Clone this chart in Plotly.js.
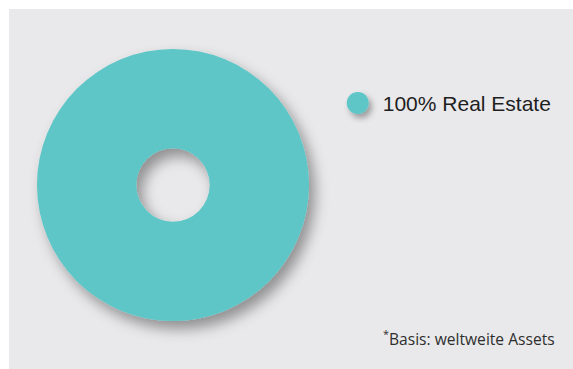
<!DOCTYPE html>
<html>
<head>
<meta charset="utf-8">
<script src="https://cdn.plot.ly/plotly-3.0.1.min.js"></script>
<style>
  html, body { margin: 0; padding: 0; background: #ffffff; }
  #chart { position: absolute; left: 9px; top: 9px; width: 564px; height: 360px; }
</style>
</head>
<body>
<div id="chart"></div>
<script>
// ---- data ----
const categories = ["Real Estate"];
const shares = [100];
const footnote = "Basis: weltweite Assets";

const teal = "#5ec6c7";
const legendLabels = categories.map((c, i) => shares[i] + "% " + c);

const trace = {
  type: "pie",
  labels: legendLabels,
  values: shares,
  hole: 0.27,
  sort: false,
  direction: "clockwise",
  textinfo: "none",
  hoverinfo: "none",
  marker: { colors: [teal], line: { width: 0 } },
  domain: { x: [0.0496, 0.5319], y: [0.1333, 0.8889] },
  showlegend: true
};

const layout = {
  width: 564,
  height: 360,
  margin: { l: 0, r: 0, t: 0, b: 0 },
  paper_bgcolor: "#e9e9eb",
  plot_bgcolor: "#e9e9eb",
  showlegend: true,
  legend: {
    x: 0.574, y: 0.738, xanchor: "left", yanchor: "middle",
    bgcolor: "rgba(0,0,0,0)",
    font: { family: "Liberation Sans, Arial, sans-serif", size: 21, color: "#1e1e1e" },
    itemwidth: 40
  },
  annotations: [{
    xref: "paper", yref: "paper",
    x: 0.972, y: 0.085, xanchor: "right", yanchor: "middle",
    text: "<sup>*</sup>" + footnote,
    showarrow: false,
    font: { family: "Open Sans, sans-serif", size: 15.6, color: "#2e2e2e" }
  }]
};

Plotly.newPlot("chart", [trace], layout, { staticPlot: true, displayModeBar: false }).then(function (gd) {
  const svg = gd.querySelector(".main-svg");
  const ns = "http://www.w3.org/2000/svg";
  let defs = svg.querySelector("defs");
  if (!defs) { defs = document.createElementNS(ns, "defs"); svg.insertBefore(defs, svg.firstChild); }
  function addShadow(id, dx, dy, sd, op) {
    const f = document.createElementNS(ns, "filter");
    f.setAttribute("id", id);
    f.setAttribute("x", "-30%"); f.setAttribute("y", "-30%");
    f.setAttribute("width", "170%"); f.setAttribute("height", "170%");
    const ds = document.createElementNS(ns, "feDropShadow");
    ds.setAttribute("dx", dx); ds.setAttribute("dy", dy);
    ds.setAttribute("stdDeviation", sd);
    ds.setAttribute("flood-color", "#000"); ds.setAttribute("flood-opacity", op);
    f.appendChild(ds);
    defs.appendChild(f);
  }
  addShadow("pieshadow", 6, 8, 7, 0.38);
  addShadow("dotshadow", 3, 4, 3, 0.35);
  gd.querySelectorAll(".pielayer .slice path.surface").forEach(p => p.setAttribute("filter", "url(#pieshadow)"));
  // round legend symbol
  gd.querySelectorAll(".legend .legendpoints path").forEach(p => {
    const r = 11;
    p.setAttribute("d", "M" + r + ",0A" + r + "," + r + " 0 1,1 0,-" + r + "A" + r + "," + r + " 0 0,1 " + r + ",0Z");
    p.style.strokeWidth = "0";
    p.setAttribute("filter", "url(#dotshadow)");
  });
});
</script>
</body>
</html>
